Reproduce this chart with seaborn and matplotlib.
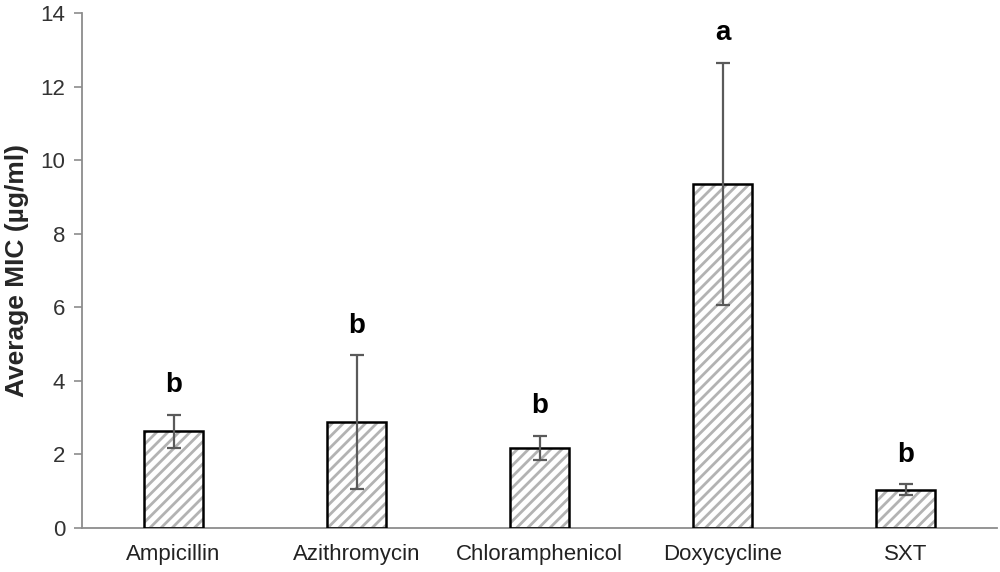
import matplotlib
matplotlib.use("Agg")
import matplotlib.pyplot as plt
import seaborn as sns
import pandas as pd
from matplotlib.patches import Rectangle

# dados
antibioticos = ["Ampicillin", "Azithromycin", "Chloramphenicol", "Doxycycline", "SXT"]
mic_media = [2.63, 2.88, 2.17, 9.35, 1.04]
mic_erro = [0.45, 1.82, 0.33, 3.30, 0.15]
letras = ["b", "b", "b", "a", "b"]

df = pd.DataFrame({"Antibiotico": antibioticos, "MIC": mic_media, "Erro": mic_erro})

sns.set_style("white")
plt.rcParams["font.family"] = ["Liberation Sans", "DejaVu Sans"]
plt.rcParams["hatch.linewidth"] = 2.0

fig = plt.figure(figsize=(10, 5.72), dpi=100)
ax = fig.add_axes([0.082, 0.077, 0.915, 0.9])

# barras com hachura cinza
sns.barplot(data=df, x="Antibiotico", y="MIC", color="white", width=0.32,
            errorbar=None, edgecolor="#b3b3b3", linewidth=0, ax=ax)
for p in ax.patches:
    p.set_hatch("///")
    ax.add_patch(Rectangle((p.get_x(), p.get_y()), p.get_width(), p.get_height(),
                           fill=False, edgecolor="black", linewidth=1.8, zorder=3))

# barras de erro
ax.errorbar(range(len(df)), df["MIC"], yerr=df["Erro"], fmt="none",
            ecolor="#5a5a5a", elinewidth=1.6, capsize=5, capthick=1.6, zorder=4)

# letras de significancia
for i, (m, e, l) in enumerate(zip(mic_media, mic_erro, letras)):
    ax.text(i, m + e + 0.45, l, ha="center", va="bottom", fontsize=20,
            fontweight="bold", color="black")

ax.set_ylim(0, 14)
ax.set_yticks(range(0, 15, 2))
ax.set_xlim(-0.5, 4.5)
ax.set_xlabel("")
ax.set_ylabel("Average MIC (\u00b5g/ml)", fontsize=19, fontweight="bold", labelpad=8)

for s in ["top", "right"]:
    ax.spines[s].set_visible(False)
for s in ["left", "bottom"]:
    ax.spines[s].set_color("#8c8c8c")
    ax.spines[s].set_linewidth(1.3)

ax.tick_params(axis="y", which="both", left=True, length=6, width=1.2,
               color="#8c8c8c", labelsize=16, labelcolor="#333333", pad=6)
ax.tick_params(axis="x", bottom=False, labelsize=16, labelcolor="#222222", pad=8)

fig.savefig("out.png", dpi=100)
